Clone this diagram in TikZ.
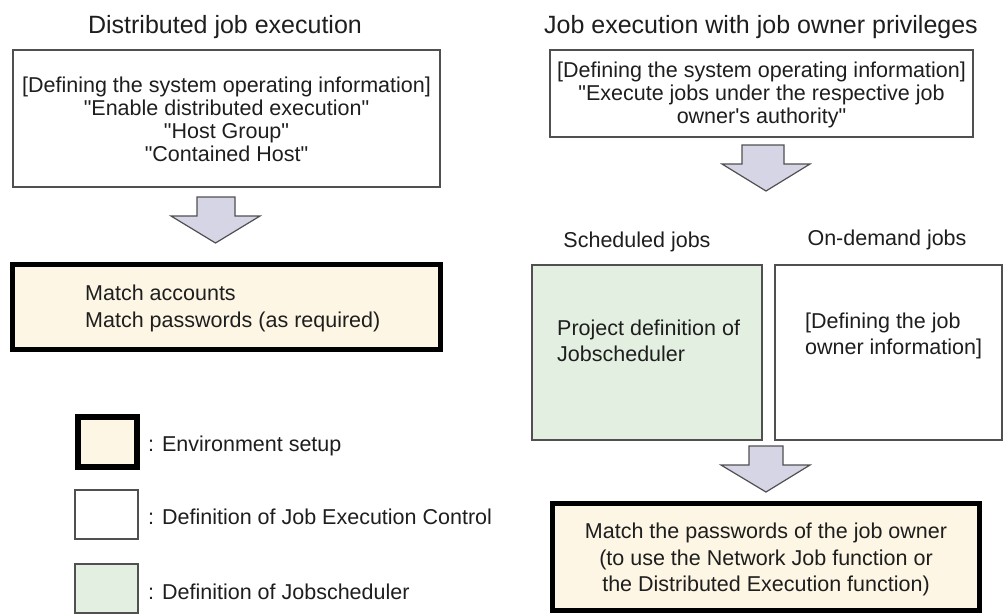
\documentclass[tikz,border=0pt]{standalone}
\usepackage{fontspec}
\setmainfont{Liberation Sans}
\definecolor{beige}{HTML}{FDF6E4}
\definecolor{paleGreen}{HTML}{E3EFE0}
\definecolor{arrowFill}{HTML}{D5D5E6}
\definecolor{lineGray}{HTML}{505050}
\definecolor{textGray}{HTML}{1E1E1E}
\newcommand{\dq}{\textquotedbl}
\begin{document}
\begin{tikzpicture}[x=1pt,y=-1pt,
  thinbox/.style={draw=lineGray,line width=1.6pt,fill=white,inner sep=0pt},
  greenbox/.style={thinbox,fill=paleGreen},
  envbox/.style={draw=black,line width=5pt,fill=beige,inner sep=0pt},
  blockarrow/.style={draw=lineGray,line width=1.2pt,fill=arrowFill,line join=miter},
  txt/.style={inner sep=0pt,text=textGray,font=\fontsize{21.5}{23}\selectfont},
  wtxt/.style={inner sep=0pt,text=textGray,font=\fontsize{21.5}{26.5}\selectfont},
  ttl/.style={inner sep=0pt,text=textGray,font=\fontsize{25}{28}\selectfont}]
\useasboundingbox (0,0) rectangle (1008,613);
\fill[white] (0,0) rectangle (1008,613);

% titles
\node[ttl] (tl) at (225,27) {Distributed job execution};
\node[ttl] (tr) at (761,27) {Job execution with job owner privileges};

% left column
\node[thinbox,minimum width=427pt,minimum height=137pt] (b1) at (226.5,118.5) {};
\node[txt,align=center] (b1t) at (226.5,119.5) {[Defining the system operating information]\\\dq Enable distributed execution\dq\\\dq Host Group\dq\\\dq Contained Host\dq};

\draw[blockarrow] (197,197) -- (235,197) -- (235,216) -- (260,216) -- (215.5,243) -- (171,216) -- (197,216) -- cycle;

\node[envbox,minimum width=428pt,minimum height=85pt] (e1) at (226.5,307) {};
\node[wtxt,align=left,anchor=west] (e1t) at (85,308.5) {Match accounts\\Match passwords (as required)};

% right column
\node[thinbox,minimum width=423pt,minimum height=87pt] (b2) at (761.5,93.5) {};
\node[txt,align=center] (b2t) at (761.5,95) {[Defining the system operating information]\\\dq Execute jobs under the respective job\\owner\textquotesingle s authority\dq};

\draw[blockarrow] (742,145) -- (784,145) -- (784,164) -- (810,164) -- (766,191) -- (722,164) -- (742,164) -- cycle;

\node[txt] (sj) at (637,242) {Scheduled jobs};
\node[txt] (oj) at (887,240) {On-demand jobs};

\node[greenbox,minimum width=230pt,minimum height=175pt] (g) at (647,352.5) {};
\node[wtxt,align=left,anchor=west] (gt) at (557,341) {Project definition of\\Jobscheduler};
\node[thinbox,minimum width=227pt,minimum height=175pt] (w) at (888.5,352.5) {};
\node[wtxt,align=left,anchor=west] (wt) at (805,336) {[Defining the job\\owner information]};

\draw[blockarrow] (749,446) -- (783,446) -- (783,465) -- (810,465) -- (766,492) -- (721,465) -- (749,465) -- cycle;

\node[envbox,minimum width=427pt,minimum height=107pt] (f) at (766,557) {};
\node[wtxt,align=center] (ft) at (766,559.5) {Match the passwords of the job owner\\(to use the Network Job function or\\the Distributed Execution function)};

% legend
\node[envbox,line width=6pt,minimum width=59pt,minimum height=50pt] (l1) at (107.5,442) {};
\node[txt,anchor=west] (l1t) at (148,446) {: Environment setup};
\node[thinbox,minimum width=63pt,minimum height=49pt] (l2) at (106.5,514.5) {};
\node[txt,anchor=west] (l2t) at (148,517) {: Definition of Job Execution Control};
\node[greenbox,minimum width=63pt,minimum height=49pt] (l3) at (106.5,588.5) {};
\node[txt,anchor=west] (l3t) at (148,592) {: Definition of Jobscheduler};
\end{tikzpicture}
\end{document}
